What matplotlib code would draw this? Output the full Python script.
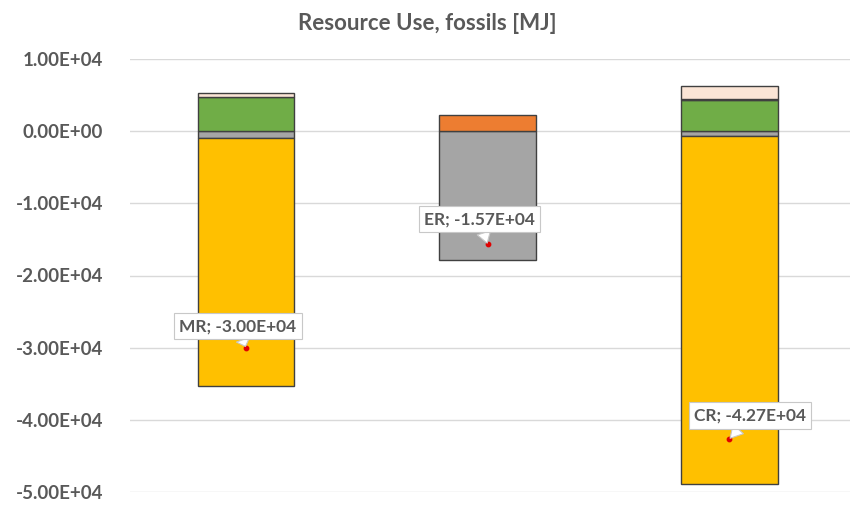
import numpy as np
import matplotlib
matplotlib.use("Agg")
import matplotlib.pyplot as plt

categories = ["MR", "ER", "CR"]
# negative contributions (stacked downward from zero)
grey_vals = [-970, -17900, -700]
yellow_vals = [-34300, 0, -48200]
# positive contributions (stacked upward from zero)
green_vals = [4710, 0, 4300]
orange_vals = [0, 2200, 0]
black_vals = [0, 0, 150]
cream_vals = [550, 0, 1750]

y_ticks = [10000, 0, -10000, -20000, -30000, -40000, -50000]
tick_labels = ["1.00E+04", "0.00E+00", "-1.00E+04", "-2.00E+04",
               "-3.00E+04", "-4.00E+04", "-5.00E+04"]
title = "Resource Use, fossils [MJ]"

plt.rcParams['font.family'] = ['Lato', 'DejaVu Sans']
text_col = "#595959"

fig = plt.figure(figsize=(8.55, 5.08), dpi=100)
ax = fig.add_axes([130/855, 1 - 492/508, 720/855, (492-59)/508])

x = np.arange(len(categories))
width = 0.4
edge = "#404040"

def draw_stack(series_list, colors):
    base = np.zeros(len(categories))
    for vals, col in zip(series_list, colors):
        vals = np.array(vals, dtype=float)
        for i in range(len(categories)):
            if vals[i] != 0:
                ax.bar(x[i], vals[i], width, bottom=base[i], color=col,
                       edgecolor=edge, linewidth=1.0, zorder=3)
        base = base + vals

draw_stack([grey_vals, yellow_vals], ["#A5A5A5", "#FFC000"])
draw_stack([green_vals, orange_vals, black_vals, cream_vals],
           ["#70AD47", "#ED7D31", "#000000", "#FBE5D6"])

net = (np.array(grey_vals) + np.array(yellow_vals) + np.array(green_vals)
       + np.array(orange_vals) + np.array(black_vals) + np.array(cream_vals))

ax.scatter(x, net, s=10, color="#E00000", zorder=5)

offsets = [(-0.033, 3000), (-0.033, 3500), (0.087, 3300)]
for i, (cat, v) in enumerate(zip(categories, net)):
    dx, dy = offsets[i]
    ax.annotate(f"{cat}; {v:.2E}", xy=(x[i], v), xytext=(x[i] + dx, v + dy),
                ha="center", va="center", fontsize=12.5, fontweight="bold",
                color=text_col, zorder=6,
                bbox=dict(boxstyle="square,pad=0.3", fc="white", ec="#C8C8C8", lw=0.8),
                arrowprops=dict(arrowstyle="wedge,tail_width=0.8,shrink_factor=0.5",
                                fc="white", ec="#C8C8C8", lw=0.8, shrinkA=0, shrinkB=1))

ax.set_ylim(-50000, 10000)
ax.set_xlim(-0.48, 2.5)
ax.set_yticks(y_ticks)
ax.set_yticklabels(tick_labels, fontsize=13.5, fontweight="bold", color=text_col)
ax.set_xticks([])
ax.tick_params(axis="y", length=0, pad=19.5)
ax.grid(axis="y", color="#D9D9D9", linewidth=1, zorder=0)
for s in ax.spines.values():
    s.set_visible(False)

fig.text(0.5, 1 - 23/508, title, ha="center", va="center", fontsize=16,
         fontweight="bold", color=text_col)

fig.savefig("out.png", dpi=100)
